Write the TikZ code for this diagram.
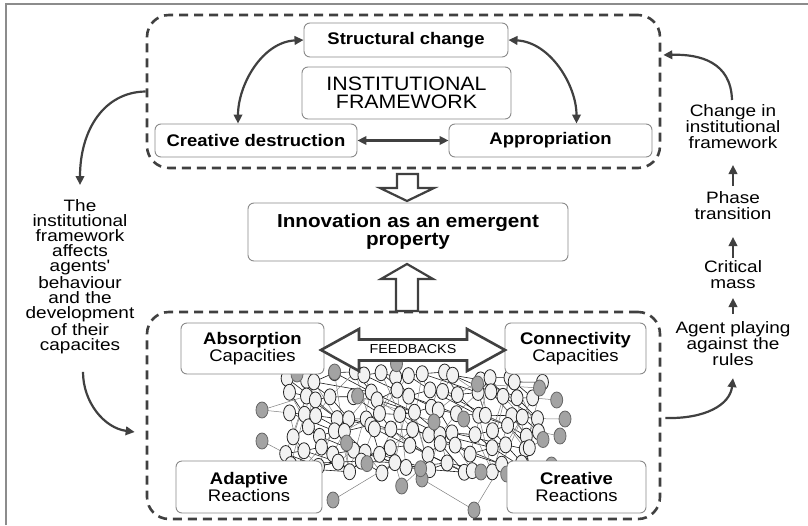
\documentclass[tikz,border=0pt]{standalone}
\usepackage{fontspec}
\setmainfont{Liberation Sans}[FakeStretch=1.1]
\newfontfamily\widefont{Liberation Sans}[FakeStretch=1.15]
\usetikzlibrary{arrows.meta,shapes.geometric}
\definecolor{dk}{HTML}{404040}
\definecolor{bx}{HTML}{8A8A8A}
\definecolor{fr}{HTML}{8C8C8C}
\begin{document}
\begin{tikzpicture}[x=1pt,y=-1pt,
  dashbox/.style={draw=dk,line width=2.6pt,dash pattern=on 9pt off 6pt,rounded corners=22pt,inner sep=0pt},
  lbox/.style={draw=bx,line width=0.9pt,rounded corners=6pt,fill=white,inner sep=0pt,align=center,text=black},
  bfont/.style={font=\bfseries\fontsize{16.8}{18}\selectfont},
  cfont/.style={font=\fontsize{16.8}{17.5}\selectfont},
  conn/.style={draw=dk,line width=2.2pt,-{Triangle[length=9pt,width=8.5pt]}},
  conn2/.style={draw=dk,line width=2.2pt,{Triangle[length=9pt,width=8.5pt]}-{Triangle[length=9pt,width=8.5pt]}},
  hollow/.style={draw=dk,fill=white,line width=2.2pt,line join=miter},
  sidetext/.style={inner sep=0pt,align=center,text=black},
  lnode/.style={ellipse,draw=black!85,fill=black!5,line width=0.8pt,minimum width=12pt,minimum height=16pt,inner sep=0pt},
  gnode/.style={ellipse,draw=black!60,fill=black!36,line width=0.8pt,minimum width=12pt,minimum height=16pt,inner sep=0pt},
  netline/.style={draw=black!90,line width=0.6pt},
  netline2/.style={draw=black!50,line width=0.5pt}]
\useasboundingbox (0,0) rectangle (808,525);
\fill[white] (0,0) rectangle (808,525);
% outer frame
\draw[fr,line width=1.6pt] (6,525) -- (6,4) -- (808,4);

% dashed frames
\node[dashbox,minimum width=513pt,minimum height=153pt] (top) at (403.5,91.5) {};
\node[dashbox,minimum width=513pt,minimum height=207pt] (bot) at (403.5,415.5) {};

% ---------- network ----------
\pgfmathsetseed{7}
\foreach \c in {0,...,16}{
  \foreach \r in {0,...,5}{
    \pgfmathsetmacro\px{288+\c*15.5+7*rand}
    \pgfmathsetmacro\py{377+\r*18+6*rand}
    \coordinate (p-\c-\r) at (\px,\py);
  }}
\foreach \x/\y/\t [count=\k] in {297/374/p-1-0, 334.6/372/p-3-0, 262/410/p-0-2, 262/441/p-0-4,
   357.6/396/p-4-1, 346.6/443/p-4-4, 367/463.6/p-5-5, 401.7/486/p-7-5, 422/479/p-9-5,
   420.6/468.7/p-8-5, 333/500/p-7-5, 434/422/p-9-3, 463.7/419/p-11-2, 477.5/384/p-12-0,
   539.5/388/p-16-1, 556.7/400/p-16-1, 565/419/p-16-2, 560/436/p-16-3, 543/439.5/p-16-4,
   481/472/p-12-5, 506.7/474/p-14-5, 474/510/p-14-5, 551.5/465/p-16-5, 396.5/363.7/p-7-0}
{ \coordinate (q\k) at (\x,\y); \draw[netline2] (q\k) -- (\t); }
\draw[netline2] (q22) -- (q9) (q8) -- (q10) (q5) -- (q12) (q14) -- (q15) (q3) -- (p-1-1);
\foreach \c in {0,...,15}{
  \foreach \r in {0,...,5}{
    \pgfmathtruncatemacro\cn{\c+1}
    \pgfmathtruncatemacro\cm{min(16,\c+random(1,3))}
    \pgfmathtruncatemacro\rn{min(5,\r+1)}
    \pgfmathtruncatemacro\rm{random(0,5)}
    \draw[netline] (p-\c-\r) -- (p-\cn-\r);
    \draw[netline] (p-\c-\r) -- (p-\cm-\rn);
    \draw[netline2] (p-\c-\r) -- (p-\cn-\rm);
  }}
\foreach \c in {0,...,16}{
  \foreach \r in {0,...,5}{
    \node[lnode] (n-\c-\r) at (p-\c-\r) {};
  }}
\foreach \k in {1,...,24}{ \node[gnode] (g\k) at (q\k) {}; }

% ---------- boxes ----------
\node[lbox,bfont,minimum width=204pt,minimum height=34pt] (sc) at (406,40) {Structural change};
\node[lbox,font=\fontsize{19.4}{18.5}\selectfont,minimum width=209pt,minimum height=52pt] (inst) at (406.5,93) {INSTITUTIONAL\\FRAMEWORK};
\node[lbox,bfont,minimum width=202pt,minimum height=33pt] (cd) at (256,140.5) {Creative destruction};
\node[lbox,bfont,minimum width=203pt,minimum height=33pt] (ap) at (550.5,140.5) {Appropriation};
\node[lbox,font=\bfseries\fontsize{18.8}{18}\selectfont,minimum width=320pt,minimum height=58pt] (inn) at (408,232) {Innovation as an emergent\\property};
\node[lbox,cfont,minimum width=143pt,minimum height=51pt] (ab) at (252.5,348.5) {\textbf{Absorption}\\Capacities};
\node[lbox,cfont,minimum width=141pt,minimum height=51pt] (co) at (575.5,348.5) {\textbf{Connectivity}\\Capacities};
\node[lbox,cfont,minimum width=146pt,minimum height=52pt] (ad) at (249,487) {\textbf{Adaptive}\\Reactions};
\node[lbox,cfont,minimum width=139pt,minimum height=52pt] (cr) at (576.5,487) {\textbf{Creative}\\Reactions};

% hollow arrows
\draw[hollow] (397,174) -- (418,174) -- (418,188) -- (434,188) -- (407,201) -- (380,188) -- (397,188) -- cycle;
\draw[hollow] (407,264) -- (433,279) -- (418,279) -- (418,311) -- (396,311) -- (396,279) -- (381,279) -- cycle;
\draw[hollow,line width=2.6pt] (321,350) -- (359,329) -- (359,339.5) -- (467,339.5) -- (467,329) -- (505,350)
   -- (467,371) -- (467,360.5) -- (359,360.5) -- (359,371) -- cycle;
\node[inner sep=0pt,font=\fontsize{13}{13}\selectfont] (fb) at (413,349.5) {FEEDBACKS};

% arrows in top frame
\draw[conn2] (sc.west) .. controls (262,42) and (238,85) .. ([xshift=-18pt]cd.north);
\draw[conn2] (sc.east) .. controls (550,42) and (576.5,85) .. ([xshift=26pt]ap.north);
\draw[conn2] (cd.east) -- (ap.west);

% left side
\node[sidetext,anchor=north,font=\widefont\fontsize{16.5}{15.2}\selectfont] (lt) at (80,199)
  {The\\institutional\\framework\\affects\\agents'\\behaviour\\and the\\development\\of their\\capacites};
\draw[conn] (top.west) .. controls (104,92) and (80,130) .. ([yshift=14pt]lt.north);
\draw[conn] ([shift={(3pt,-18pt)}]lt.south) .. controls (83,402) and (104,428) .. ([shift={(-11pt,-16.5pt)}]bot.west);

% right side
\node[sidetext,anchor=north,font=\widefont\fontsize{16.5}{16.3}\selectfont] (chg) at (733,104) {Change in\\institutional\\framework};
\node[sidetext,anchor=north,font=\widefont\fontsize{16.5}{16.3}\selectfont] (ph) at (733,191) {Phase\\transition};
\node[sidetext,anchor=north,font=\widefont\fontsize{16.5}{16.3}\selectfont] (crit) at (733,260) {Critical\\mass};
\node[sidetext,anchor=north,font=\widefont\fontsize{16.5}{16.3}\selectfont] (ag) at (733,321) {Agent playing\\against the\\rules};
\draw[conn] ([yshift=5pt]ph.north) -- ++(0,-21);
\draw[conn] ([yshift=2pt]crit.north) -- ++(0,-21);
\draw[conn] ([yshift=7pt]ag.north) -- ++(0,-16);
\draw[conn] ([shift={(-1pt,4pt)}]chg.north) .. controls (731,62) and (700,54) .. ([shift={(2pt,36.5pt)}]top.east);
\draw[conn] ([shift={(4pt,-2.5pt)}]bot.east) .. controls (705,419) and (730,405) .. ([yshift=-12pt]ag.south);
\end{tikzpicture}
\end{document}
